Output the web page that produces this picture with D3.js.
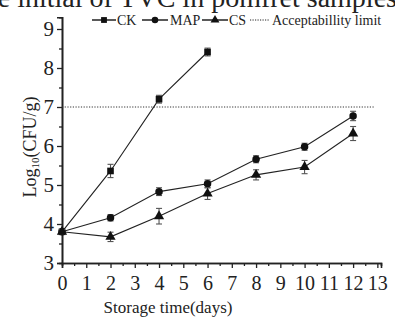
<!DOCTYPE html>
<html>
<head>
<meta charset="utf-8">
<script src="https://cdn.jsdelivr.net/npm/d3@7"></script>
<style>
  body { margin: 0; background: #fff; }
  svg { display: block; }
  svg text { font-family: "Liberation Serif", "DejaVu Serif", serif; }
</style>
</head>
<body>
<svg id="chart" width="395" height="320"></svg>
<script>
// storage days and log10 counts for each treatment
var days = [0, 2, 4, 6, 8, 10, 12];
var ckDays = [0, 2, 4, 6];
var ckVals = [3.8, 5.36, 7.2, 8.41];
var ckErr = [0.05, 0.17, 0.1, 0.1];
var mapVals = [3.8, 4.16, 4.83, 5.03, 5.66, 5.98, 6.77];
var mapErr = [0.05, 0.08, 0.1, 0.1, 0.09, 0.09, 0.12];
var csVals = [3.8, 3.67, 4.2, 4.78, 5.26, 5.46, 6.32];
var csErr = [0.05, 0.12, 0.2, 0.15, 0.13, 0.17, 0.18];
var limit = 7;
var xTicks = d3.range(0, 14);
var yTicks = [3, 4, 5, 6, 7, 8, 9];

var svg = d3.select("#chart");

var x = d3.scaleLinear().domain([0, 13.15]).range([62, 381]);
var y = d3.scaleLinear().domain([3, 9.3]).range([263, 17.3]);

// clipped caption from the page above the figure
svg.append("text")
  .attr("x", -24).attr("y", 7)
  .attr("font-size", 28)
  .attr("fill", "#222")
  .text("the initial of TVC in pomfret samples");

// axes
var xAxis = d3.axisBottom(x).tickValues(xTicks).tickSize(5).tickFormat(d3.format("d"));
var xMinor = d3.axisBottom(x).tickValues(d3.range(0.5, 13.1, 1)).tickSize(3).tickFormat("");
var yAxis = d3.axisLeft(y).tickValues(yTicks).tickSize(5).tickFormat(d3.format("d"));
var yMinor = d3.axisLeft(y).tickValues(d3.range(3.5, 9.1, 1)).tickSize(3).tickFormat("");

function styleAxis(g) {
  g.attr("font-family", "Liberation Serif");
  g.select(".domain").attr("stroke", "#222").attr("stroke-width", 1.6);
  g.selectAll(".tick line").attr("stroke", "#222").attr("stroke-width", 1.3);
  g.selectAll("text").attr("fill", "#222");
}

svg.append("g").attr("transform", "translate(0,263)").call(xMinor).call(styleAxis);
var gx = svg.append("g").attr("transform", "translate(0,263)").call(xAxis).call(styleAxis);
gx.selectAll("text").attr("font-size", 20).attr("dy", "0.95em");

svg.append("g").attr("transform", "translate(62,0)").call(yMinor).call(styleAxis);
var gy = svg.append("g").attr("transform", "translate(62,0)").call(yAxis).call(styleAxis);
gy.selectAll("text").attr("font-size", 21).attr("x", -8);

// axis titles
svg.append("text")
  .attr("x", 168).attr("y", 313)
  .attr("text-anchor", "middle")
  .attr("font-size", 17)
  .attr("fill", "#222")
  .text("Storage time(days)");

var yt = svg.append("text")
  .attr("transform", "translate(36,147) rotate(-90)")
  .attr("text-anchor", "middle")
  .attr("font-size", 18)
  .attr("fill", "#222");
yt.append("tspan").text("Log");
yt.append("tspan").attr("font-size", 11).attr("dy", 3).text("10");
yt.append("tspan").attr("dy", -3).text("(CFU/g)");

// acceptability limit
svg.append("line")
  .attr("x1", x(0)).attr("x2", x(12.85))
  .attr("y1", y(limit)).attr("y2", y(limit))
  .attr("stroke", "#333").attr("stroke-width", 1)
  .attr("stroke-dasharray", "1.2,1.5");

var series = [
  { name: "CK", xs: ckDays, vals: ckVals, err: ckErr, shape: d3.symbolSquare, size: 44 },
  { name: "MAP", xs: days, vals: mapVals, err: mapErr, shape: d3.symbolCircle, size: 44 },
  { name: "CS", xs: days, vals: csVals, err: csErr, shape: d3.symbolTriangle, size: 46 }
];

var line = d3.line().x(function(d) { return x(d[0]); }).y(function(d) { return y(d[1]); });

series.forEach(function(s) {
  var pts = s.xs.map(function(d, i) { return [d, s.vals[i], s.err[i]]; });
  svg.append("path")
    .attr("d", line(pts))
    .attr("fill", "none").attr("stroke", "#222").attr("stroke-width", 1.1);

  var eb = svg.append("g").attr("stroke", "#555").attr("stroke-width", 1.1);
  pts.forEach(function(p) {
    var cx = x(p[0]);
    eb.append("line").attr("x1", cx).attr("x2", cx).attr("y1", y(p[1] - p[2])).attr("y2", y(p[1] + p[2]));
    eb.append("line").attr("x1", cx - 3).attr("x2", cx + 3).attr("y1", y(p[1] + p[2])).attr("y2", y(p[1] + p[2]));
    eb.append("line").attr("x1", cx - 3).attr("x2", cx + 3).attr("y1", y(p[1] - p[2])).attr("y2", y(p[1] - p[2]));
  });

  svg.append("g").selectAll("path")
    .data(pts)
    .enter().append("path")
    .attr("transform", function(p) { return "translate(" + x(p[0]) + "," + y(p[1]) + ")"; })
    .attr("d", d3.symbol().type(s.shape).size(s.size))
    .attr("fill", "#111");
});

// legend
var lg = svg.append("g").attr("font-size", 14).attr("fill", "#222");
var legendItems = [
  { label: "CK", x0: 92, x1: 116, tx: 117, shape: d3.symbolSquare },
  { label: "MAP", x0: 142, x1: 168, tx: 170, shape: d3.symbolCircle },
  { label: "CS", x0: 202, x1: 228, tx: 229, shape: d3.symbolTriangle },
  { label: "Acceptabillity limit", x0: 250, x1: 270, tx: 272, shape: null }
];
legendItems.forEach(function(it) {
  var ly = 20;
  var l = lg.append("line")
    .attr("x1", it.x0).attr("x2", it.x1).attr("y1", ly).attr("y2", ly)
    .attr("stroke", "#222").attr("stroke-width", it.shape ? 1.5 : 1);
  if (!it.shape) l.attr("stroke-dasharray", "1.2,1.3");
  if (it.shape) {
    lg.append("path")
      .attr("transform", "translate(" + (it.x0 + it.x1) / 2 + "," + ly + ")")
      .attr("d", d3.symbol().type(it.shape).size(34))
      .attr("fill", "#111");
  }
  lg.append("text").attr("x", it.tx).attr("y", ly + 4.5).text(it.label);
});
</script>
</body>
</html>
